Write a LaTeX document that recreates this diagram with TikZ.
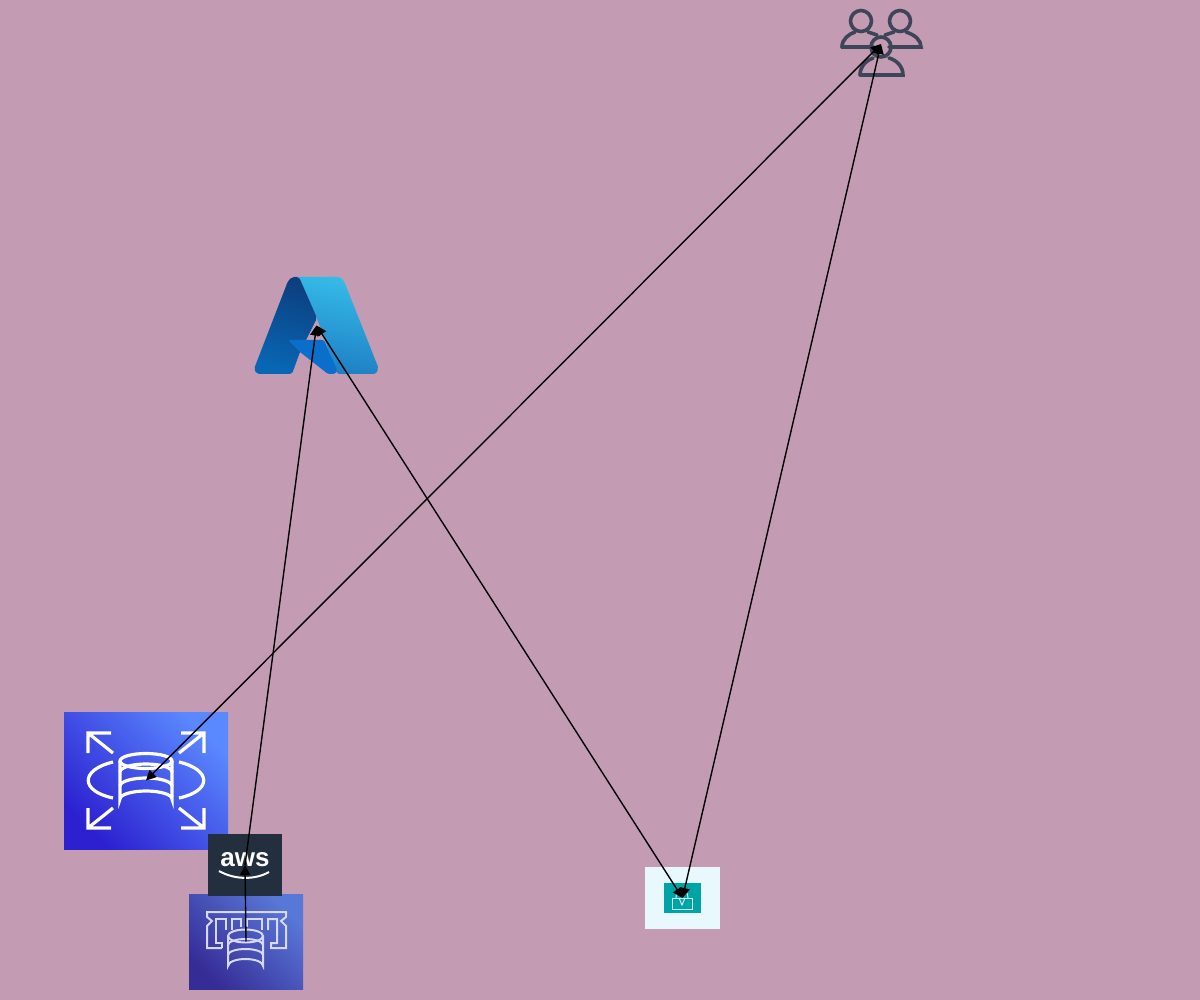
\documentclass[tikz,border=0pt]{standalone}
\usepackage{fontspec}
\setmainfont{Liberation Sans}
\usetikzlibrary{arrows.meta}
\definecolor{bgc}{HTML}{C39BB3}
\definecolor{ink}{HTML}{3F4559}
\definecolor{awsdark}{HTML}{232F3E}
\definecolor{teal}{HTML}{00A4A6}
\definecolor{paleb}{HTML}{E8F8FC}
\definecolor{rdsA}{HTML}{5A88FF}
\definecolor{rdsB}{HTML}{2C20D0}
\definecolor{dbeA}{HTML}{5878D8}
\definecolor{dbeB}{HTML}{362C96}
\definecolor{azL1}{HTML}{35BBE8}
\definecolor{azL2}{HTML}{1E7FC4}
\definecolor{azD1}{HTML}{0C3F80}
\definecolor{azD2}{HTML}{0867B4}
\definecolor{azM}{HTML}{0A6FCB}
\tikzset{
  x=1pt,y=-1pt,
  biLink/.style={draw=black,line width=1.4pt,{Triangle[length=10pt,width=10pt]}-{Triangle[length=10pt,width=10pt]}},
  oneLink/.style={draw=black,line width=1.4pt,-{Triangle[length=10pt,width=10pt]}},
  iconbox/.style={rectangle,inner sep=0pt,outer sep=0pt,anchor=center},
  glyph/.style={draw=white,line width=3.2pt,line join=miter},
  thinglyph/.style={draw=white!85!blue,line width=2pt,line join=miter},
  person/.style={draw=ink,line width=3.6pt,line cap=round}
}
\begin{document}
\begin{tikzpicture}
\useasboundingbox (0,0) rectangle (1200,1000);
\fill[bgc] (0,0) rectangle (1200,1000);

% ---------- RDS
\node[iconbox,minimum width=164pt,minimum height=137pt,top color=rdsA,bottom color=rdsB,shading angle=-45] (rds) at (146,780.5) {};
\begin{scope}[glyph]
  \draw (113,753) -- (88,733) (88,753) -- (88,733) -- (111,733);
  \draw (179,753) -- (204,733) (204,753) -- (204,733) -- (181,733);
  \draw (113,808) -- (88,828) (88,808) -- (88,828) -- (111,828);
  \draw (179,808) -- (204,828) (204,808) -- (204,828) -- (181,828);
  \draw (113,762) .. controls (80,770) and (80,791) .. (113,798);
  \draw (179,762) .. controls (212,770) and (212,791) .. (179,798);
  \draw (120,761) -- (120,799) arc[x radius=26,y radius=8,start angle=180,end angle=360] -- (172,761);
  \draw (146,761) ellipse[x radius=26,y radius=7.5];
  \draw (120,772) arc[x radius=26,y radius=8,start angle=180,end angle=360];
  \draw (120,786) arc[x radius=26,y radius=8,start angle=180,end angle=360];
\end{scope}

% ---------- DB chip box
\node[iconbox,minimum width=114pt,minimum height=95pt,top color=dbeA,bottom color=dbeB,shading angle=-45] (dbe) at (246,941.5) {};
\begin{scope}[thinglyph]
  \draw (222,948) -- (207,948) -- (207,926) -- (212,921) -- (207,917) -- (207,912) -- (286,912) -- (286,917) -- (281,921) -- (286,926) -- (286,948) -- (271,948) -- (271,943) -- (277,943) -- (277,919) -- (268,919) -- (268,930);
  \draw (222,948) -- (222,943) -- (216,943) -- (216,919) -- (226,919) -- (226,930);
  \draw (232,930) -- (232,919) -- (241,919) -- (241,927);
  \draw (247,927) -- (247,919) -- (262,919) -- (262,930);
  \draw (228,936) -- (228,966) arc[x radius=17.5,y radius=7,start angle=180,end angle=360] -- (263,936);
  \draw (245.5,936) ellipse[x radius=17.5,y radius=6.5];
  \draw (228,945) arc[x radius=17.5,y radius=6,start angle=180,end angle=360];
  \draw (228,955) arc[x radius=17.5,y radius=6,start angle=180,end angle=360];
\end{scope}

% ---------- AWS badge
\node[iconbox,minimum width=74pt,minimum height=62pt,fill=awsdark] (aws) at (245,865) {};
\node[text=white,font=\bfseries\fontsize{26}{26}\selectfont,inner sep=0pt] (awstext) at (245,860) {aws};
\draw[white,line width=2pt] (219,871) .. controls (235,880) and (255,880) .. (269,872);

% ---------- Azure logo
\node[iconbox,minimum width=124pt,minimum height=97pt] (azure) at (316.5,325.5) {};
\shade[top color=azL1,bottom color=azL2,shading angle=-10,rounded corners=2pt]
  (297,277) -- (340,277) -- (344,281) -- (378.5,368) -- (376,374) -- (337,374) -- (325,340) -- (316,316) -- cycle;
\shade[top color=azD1,bottom color=azD2,shading angle=-15,rounded corners=2pt]
  (292,277) -- (299,277) -- (317,318) -- (306,340) -- (300,352) -- (292,374) -- (257,374) -- (254,369) -- (288,281) -- cycle;
\fill[azM,rounded corners=1.5pt]
  (288,340) -- (324,340) -- (337,370) -- (335,374) -- (328,374) -- (300,352) -- cycle;

% ---------- Users
\node[iconbox,minimum width=82pt,minimum height=68pt] (users) at (881,44) {};
\begin{scope}[person]
  \draw (861,21) circle[radius=10.5];
  \draw (900,21) circle[radius=10.5];
  \draw (842,47) .. controls (842,39) and (849,34) .. (855,32);
  \draw (842,47) -- (873,47);
  \draw (877,35) -- (868,32);
  \draw (906,32) .. controls (915,35) and (921,40) .. (921,47) -- (889,47);
  \draw (885,35) -- (894,32);
  \draw (881,47) circle[radius=10];
  \draw (860,75) .. controls (860,66) and (867,60) .. (873,58);
  \draw (889,58) .. controls (896,60) and (903,66) .. (903,75) -- (860,75);
\end{scope}

% ---------- Lock tile
\node[iconbox,minimum width=75pt,minimum height=62pt,fill=paleb] (lock) at (682.5,898) {};
\node[iconbox,minimum width=37pt,minimum height=30pt,fill=teal] (locktile) at (682.5,898) {};
\begin{scope}[draw=white!80!teal,line width=1pt]
  \draw (672.5,898) rectangle (692,909);
  \draw (676,898) .. controls (676,887) and (688,887) .. (688,898);
  \draw (679,898) -- (682,905) -- (685,898);
\end{scope}

% ---------- Connectors
\draw[biLink] (users.center) -- (rds.center);
\draw[biLink] (users.center) -- (lock.center);
\draw[biLink] (azure.center) -- (lock.center);
\draw[oneLink] (aws.center) -- (azure.center);
\draw[oneLink] (dbe.center) -- (aws.center);
\end{tikzpicture}
\end{document}
